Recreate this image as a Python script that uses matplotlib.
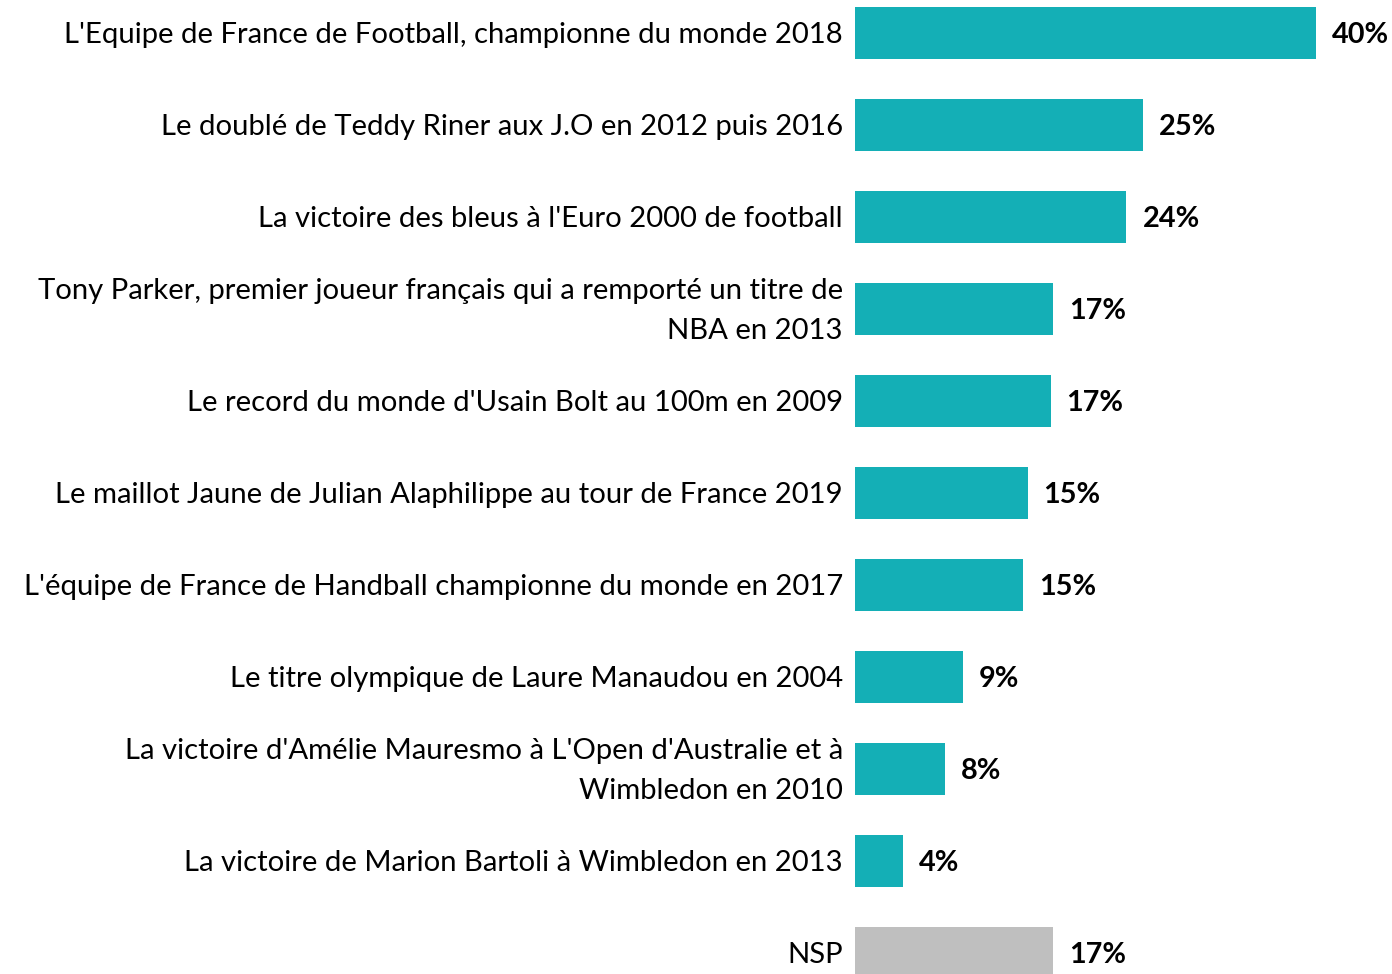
import numpy as np
import matplotlib.pyplot as plt

plt.rcParams['font.family'] = ['Lato', 'DejaVu Sans']

labels = [
    "L'Equipe de France de Football, championne du monde 2018",
    "Le doublé de Teddy Riner aux J.O en 2012 puis 2016",
    "La victoire des bleus à l'Euro 2000 de football",
    "Tony Parker, premier joueur français qui a remporté un titre de\nNBA en 2013",
    "Le record du monde d'Usain Bolt au 100m en 2009",
    "Le maillot Jaune de Julian Alaphilippe au tour de France 2019",
    "L'équipe de France de Handball championne du monde en 2017",
    "Le titre olympique de Laure Manaudou en 2004",
    "La victoire d'Amélie Mauresmo à L'Open d'Australie et à\nWimbledon en 2010",
    "La victoire de Marion Bartoli à Wimbledon en 2013",
    "NSP",
]
values = [40.1, 25.0, 23.6, 17.2, 17.0, 15.0, 14.6, 9.4, 7.8, 4.2, 17.2]
value_labels = ["40%", "25%", "24%", "17%", "17%", "15%", "15%", "9%", "8%", "4%", "17%"]

teal = '#14AFB6'
grey = '#BFBFBF'
colors = [teal] * 10 + [grey]

fig = plt.figure(figsize=(13.92, 9.74), dpi=100)
ax = fig.add_axes([855 / 1392, 0, 537 / 1392, 1])

y = np.arange(len(values))
ax.barh(y, values, height=0.565, color=colors)
ax.set_xlim(0, 537 / 11.5)
ax.set_ylim(974 / 92 - 33 / 92, -33 / 92)

for yi, v, lab in zip(y, values, value_labels):
    ax.text(v + 1.4, yi + 0.02, lab, ha='left', va='center', fontsize=20.8,
            fontweight='bold', color='black')

for yi, lab in zip(y, labels):
    ax.text(-1.05, yi + 0.02, lab, ha='right', va='center', fontsize=21.1,
            color='black', linespacing=1.68)

ax.axis('off')
fig.savefig('out.png', dpi=100)
